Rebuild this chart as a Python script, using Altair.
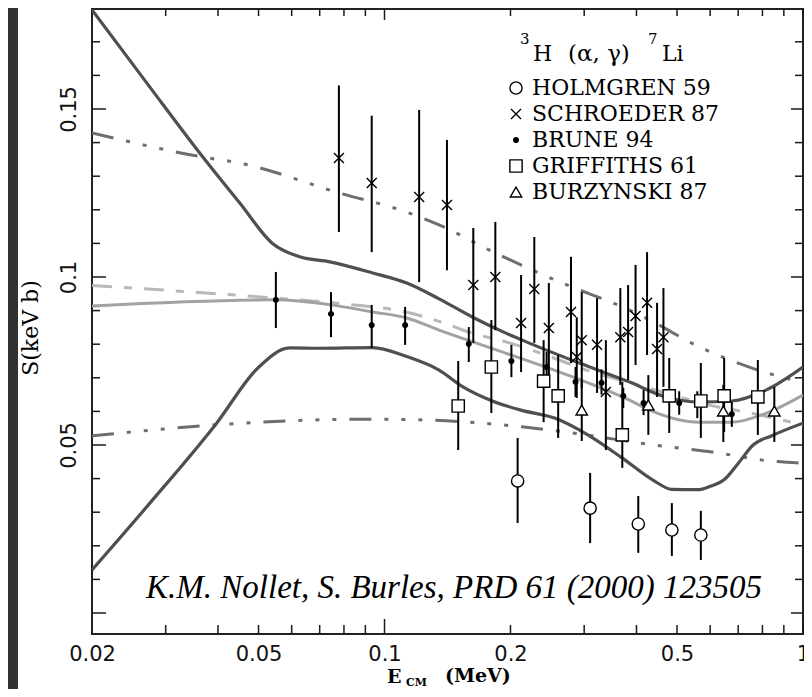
import altair as alt
import pandas as pd

# ---------------- curves (E in MeV, S in keV b) ----------------
upper_band_E = [0.02, 0.0275, 0.0368, 0.0451, 0.054, 0.0627, 0.074, 0.0937, 0.113, 0.135, 0.162, 0.195, 0.221, 0.292, 0.384, 0.47, 0.565, 0.676, 0.818, 1.0]
upper_band_S = [0.1795, 0.1565, 0.1357, 0.122, 0.110, 0.106, 0.1045, 0.1012, 0.0982, 0.0935, 0.0881, 0.0833, 0.0804, 0.0744, 0.0688, 0.0643, 0.0628, 0.0631, 0.0664, 0.0732]

lower_band_E = [0.02, 0.0275, 0.0397, 0.0498, 0.0594, 0.07, 0.0937, 0.112, 0.135, 0.154, 0.181, 0.213, 0.255, 0.306, 0.37, 0.44, 0.486, 0.56, 0.6, 0.65, 0.7, 0.76, 0.84, 1.0]
lower_band_S = [0.0128, 0.0327, 0.0565, 0.0729, 0.0789, 0.0788, 0.0790, 0.0765, 0.0723, 0.0673, 0.0631, 0.0603, 0.058, 0.053, 0.0461, 0.0394, 0.0368, 0.0367, 0.0377, 0.0398, 0.0445, 0.0500, 0.0527, 0.0565]

central_E = [0.02, 0.055, 0.0745, 0.0937, 0.113, 0.135, 0.185, 0.266, 0.384, 0.43, 0.565, 0.676, 0.818, 1.0]
central_S = [0.0914, 0.0932, 0.0917, 0.0896, 0.0878, 0.0842, 0.0783, 0.0714, 0.0634, 0.0604, 0.0568, 0.0568, 0.0595, 0.0649]

alt_fit_E = [0.02, 0.035, 0.0553, 0.08, 0.113, 0.135, 0.16, 0.2, 0.25, 0.3, 0.4, 0.5, 0.6, 0.75, 0.85, 1.0]
alt_fit_S = [0.0975, 0.0955, 0.0937, 0.092, 0.0895, 0.0868, 0.0835, 0.0803, 0.0762, 0.0725, 0.068, 0.0645, 0.0618, 0.0595, 0.0580, 0.0560]

dd_upper_E = [0.02, 0.0368, 0.0451, 0.078, 0.113, 0.135, 0.185, 0.266, 0.384, 0.43, 0.565, 0.744, 1.0]
dd_upper_S = [0.1429, 0.1357, 0.1339, 0.125, 0.1193, 0.1155, 0.107, 0.0982, 0.0902, 0.0872, 0.0792, 0.0732, 0.0685]

dd_lower_E = [0.02, 0.0397, 0.0906, 0.128, 0.213, 0.28, 0.44, 0.63, 0.8, 1.0]
dd_lower_S = [0.0527, 0.056, 0.0577, 0.0574, 0.0554, 0.0536, 0.05, 0.0476, 0.0455, 0.0446]

# ---------------- data points: E, S, lower, upper ----------------
dataset_names = ["HOLMGREN 59", "SCHROEDER 87", "BRUNE 94", "GRIFFITHS 61", "BURZYNSKI 87"]

holmgren_E = [0.208, 0.31, 0.404, 0.486, 0.57]
holmgren_S = [0.0393, 0.0312, 0.0265, 0.0247, 0.0232]
holmgren_lo = [0.0268, 0.0208, 0.0179, 0.017, 0.0158]
holmgren_hi = [0.0521, 0.0417, 0.0348, 0.0327, 0.0304]

schroeder_E = [0.0778, 0.0932, 0.121, 0.141, 0.163, 0.184, 0.212, 0.228, 0.247, 0.279, 0.288, 0.296, 0.322, 0.338, 0.366, 0.382, 0.398, 0.424, 0.448, 0.464]
schroeder_S = [0.1354, 0.128, 0.1238, 0.1214, 0.0976, 0.100, 0.0863, 0.0964, 0.0848, 0.0896, 0.0762, 0.0812, 0.0798, 0.0658, 0.0821, 0.0836, 0.0884, 0.0923, 0.0786, 0.0821]
schroeder_lo = [0.1134, 0.1074, 0.0985, 0.102, 0.0804, 0.0842, 0.0717, 0.0804, 0.0693, 0.0744, 0.064, 0.067, 0.0655, 0.0485, 0.0679, 0.0693, 0.0738, 0.0768, 0.0643, 0.0673]
schroeder_hi = [0.157, 0.148, 0.1497, 0.1408, 0.1146, 0.1164, 0.1006, 0.1119, 0.0982, 0.106, 0.088, 0.0955, 0.0937, 0.0812, 0.0967, 0.0976, 0.1036, 0.1074, 0.0923, 0.0967]

brune_E = [0.055, 0.0745, 0.0932, 0.112, 0.159, 0.201, 0.244, 0.286, 0.33, 0.372, 0.416, 0.506, 0.559, 0.676]
brune_S = [0.0932, 0.089, 0.0857, 0.0857, 0.0801, 0.075, 0.0732, 0.0688, 0.0685, 0.0646, 0.0625, 0.0625, 0.0625, 0.0592]
brune_lo = [0.0848, 0.0821, 0.0789, 0.0798, 0.0747, 0.0702, 0.0688, 0.0643, 0.065, 0.061, 0.0589, 0.059, 0.058, 0.0554]
brune_hi = [0.1015, 0.0955, 0.0917, 0.0911, 0.0851, 0.0798, 0.0777, 0.0732, 0.0725, 0.067, 0.0664, 0.066, 0.066, 0.0628]

griffiths_E = [0.15, 0.18, 0.24, 0.26, 0.37, 0.479, 0.57, 0.648, 0.78]
griffiths_S = [0.0616, 0.0732, 0.069, 0.0646, 0.053, 0.0646, 0.0631, 0.0646, 0.0643]
griffiths_lo = [0.0485, 0.0595, 0.0568, 0.0521, 0.0432, 0.0536, 0.0521, 0.0539, 0.053]
griffiths_hi = [0.075, 0.0872, 0.0812, 0.0768, 0.0688, 0.0759, 0.0744, 0.0759, 0.0753]

burzynski_E = [0.296, 0.427, 0.645, 0.854]
burzynski_S = [0.0604, 0.0619, 0.0601, 0.0601]
burzynski_lo = [0.0512, 0.053, 0.0509, 0.0509]
burzynski_hi = [0.069, 0.0708, 0.0679, 0.0673]

# ---------------- axis ticks / labels ----------------
x_label_values = [0.02, 0.05, 0.1, 0.2, 0.5, 1.0]
x_major_ticks = [0.1, 1.0]
x_minor_ticks = [0.03, 0.04, 0.05, 0.06, 0.07, 0.08, 0.09, 0.2, 0.3, 0.4, 0.5, 0.6, 0.7, 0.8, 0.9]
y_label_values = [0.05, 0.1, 0.15]
y_major_ticks = [0.0, 0.05, 0.1, 0.15]
y_minor_ticks = [0.01, 0.02, 0.03, 0.04, 0.06, 0.07, 0.08, 0.09, 0.11, 0.12, 0.13, 0.14, 0.16, 0.17]

reaction_parts = ["3", "H", "(α, γ)", "7", "Li"]
citation = "K.M. Nollet, S. Burles, PRD 61 (2000) 123505"
y_title = "S(keV b)"
x_title_parts = ["E", "CM", "(MeV)"]

# ---------------- build ----------------
PW, PH = 711, 625

def curve_df(E, S):
    return pd.DataFrame({"E": E, "S": S})

rows = []
for name, Es, Ss, los, his in [
    (dataset_names[0], holmgren_E, holmgren_S, holmgren_lo, holmgren_hi),
    (dataset_names[1], schroeder_E, schroeder_S, schroeder_lo, schroeder_hi),
    (dataset_names[2], brune_E, brune_S, brune_lo, brune_hi),
    (dataset_names[3], griffiths_E, griffiths_S, griffiths_lo, griffiths_hi),
    (dataset_names[4], burzynski_E, burzynski_S, burzynski_lo, burzynski_hi),
]:
    for e, s, lo, hi in zip(Es, Ss, los, his):
        rows.append({"dataset": name, "E": e, "S": s, "lo": lo, "hi": hi})
points = pd.DataFrame(rows)

x_scale = alt.Scale(type="log", domain=[0.02, 1.0], nice=False)
y_scale = alt.Scale(domain=[-0.00625, 0.17976], nice=False, zero=False)

x_axis = alt.Axis(values=x_label_values, format="~g", labelFont="DejaVu Sans",
                  labelFontSize=21, labelColor="#111111", labelPadding=9,
                  ticks=False, tickSize=0, domain=False, grid=False, title=None,
                  labelFlush=False, labelOverlap=False, zindex=1)
y_axis = alt.Axis(values=y_label_values, format="~g", labelFont="DejaVu Sans",
                  labelFontSize=21, labelColor="#111111", labelPadding=17,
                  labelAngle=270, labelAlign="center", labelBaseline="alphabetic",
                  ticks=False, tickSize=0, domain=False, grid=False, title=None,
                  labelFlush=False, labelOverlap=False, zindex=1)

X = alt.X("E:Q", scale=x_scale, axis=x_axis)
Y = alt.Y("S:Q", scale=y_scale, axis=y_axis)


def line(E, S, color, width, dash=None):
    kw = dict(color=color, strokeWidth=width, interpolate="monotone", clip=True)
    if dash is not None:
        kw["strokeDash"] = dash
    return alt.Chart(curve_df(E, S)).mark_line(**kw).encode(x=X, y=Y, order=alt.Order("E:Q"))

dd = [22, 13, 4, 13, 4, 13, 4, 13]
layers = []
# dark strip at the left edge
layers.append(alt.Chart(pd.DataFrame({"k": [0]})).mark_rect(color="#323232", clip=False).encode(
    x=alt.value(-84), x2=alt.value(-74), y=alt.value(-5), y2=alt.value(700)))
layers.append(line(dd_upper_E, dd_upper_S, "#6e6e6e", 3, dd))
layers.append(line(dd_lower_E, dd_lower_S, "#6e6e6e", 3, dd))
layers.append(line(alt_fit_E, alt_fit_S, "#b8b8b8", 3, [20, 12, 8, 12]))
layers.append(line(central_E, central_S, "#a2a2a2", 3))
layers.append(line(upper_band_E, upper_band_S, "#4f4f4f", 3.2))
layers.append(line(lower_band_E, lower_band_S, "#4f4f4f", 3.2))

# error bars
layers.append(alt.Chart(points).mark_rule(color="black", strokeWidth=2).encode(
    x=X, y=alt.Y("lo:Q", scale=y_scale, axis=y_axis), y2="hi:Q"))

legend = alt.Legend(title=None, orient="none", legendX=413, legendY=68,
                    labelFont="DejaVu Serif", labelFontSize=22, labelColor="black",
                    rowPadding=4, labelOffset=5, symbolStrokeWidth=1.4,
                    padding=0, labelLimit=400)
shape_range = ["circle", "M-1,-1L1,1M-1,1L1,-1", "circle", "square", "triangle-up"]
fill_range = ["white", "transparent", "black", "white", "white"]
stroke_range = ["black", "black", "black", "black", "black"]
size_range = [150, 100, 22, 150, 130]

layers.append(alt.Chart(points).mark_point(strokeWidth=1.4, opacity=1).encode(
    x=X, y=Y,
    shape=alt.Shape("dataset:N", scale=alt.Scale(domain=dataset_names, range=shape_range), legend=legend),
    fill=alt.Fill("dataset:N", scale=alt.Scale(domain=dataset_names, range=fill_range), legend=legend),
    stroke=alt.Stroke("dataset:N", scale=alt.Scale(domain=dataset_names, range=stroke_range), legend=legend),
    size=alt.Size("dataset:N", scale=alt.Scale(type="ordinal", domain=dataset_names, range=size_range), legend=legend),
))

# axis ticks (drawn inward on all four sides)
tick_col = "#1a1a1a"
def xticks(vals, lb, lt):
    df = pd.DataFrame({"E": vals})
    b = alt.Chart(df).mark_rule(color=tick_col, strokeWidth=1.5).encode(x=X, y=alt.value(PH), y2=alt.value(PH - lb))
    t = alt.Chart(df).mark_rule(color=tick_col, strokeWidth=1.5).encode(x=X, y=alt.value(0), y2=alt.value(lt))
    return [b, t]

def yticks(vals, ll, lr):
    df = pd.DataFrame({"S": vals})
    l = alt.Chart(df).mark_rule(color=tick_col, strokeWidth=1.5).encode(y=Y, x=alt.value(0), x2=alt.value(ll))
    r = alt.Chart(df).mark_rule(color=tick_col, strokeWidth=1.5).encode(y=Y, x=alt.value(PW), x2=alt.value(PW - lr))
    return [l, r]

layers += xticks(x_major_ticks, 15, 11)
layers += xticks(x_minor_ticks, 9, 7)
layers += yticks(y_major_ticks, 14, 12)
layers += yticks(y_minor_ticks, 8, 8)


def text(label, x, y, size, font="DejaVu Serif", **kw):
    return alt.Chart(pd.DataFrame({"t": [label]})).mark_text(
        font=font, fontSize=size, color="black", baseline="alphabetic", clip=False, **kw
    ).encode(text="t:N", x=alt.value(x), y=alt.value(y))

# reaction label
layers.append(text(reaction_parts[0], 428, 35, 15, align="left"))
layers.append(text(reaction_parts[1], 441, 52, 22, align="left"))
layers.append(text(reaction_parts[2], 476, 52, 23, align="left"))
layers.append(text(reaction_parts[3], 556, 35, 15, align="left"))
layers.append(text(reaction_parts[4], 570, 52, 22, align="left"))

# citation
layers.append(text(citation, 362, 589, 33, font="Liberation Serif", fontStyle="italic", align="center"))

# axis titles
layers.append(text(y_title, -54, 319, 22, align="center", angle=270))
layers.append(text(x_title_parts[0], 295, 674, 19, fontWeight="bold", align="left"))
layers.append(text(x_title_parts[1], 314, 677, 11, fontWeight="bold", align="left"))
layers.append(text(x_title_parts[2], 353, 673, 19, fontWeight="bold", align="left"))

chart = alt.layer(*layers).properties(
    width=PW, height=PH,
    autosize=alt.AutoSizeParams(type="none"),
    padding={"left": 84, "top": 1, "right": 1, "bottom": 55},
    background="white",
).configure_view(stroke="#222222", strokeWidth=2).configure_legend(
    labelFont="DejaVu Serif", labelFontSize=22
)

chart.save("out.html", embed_options={"renderer": "svg", "actions": False})
